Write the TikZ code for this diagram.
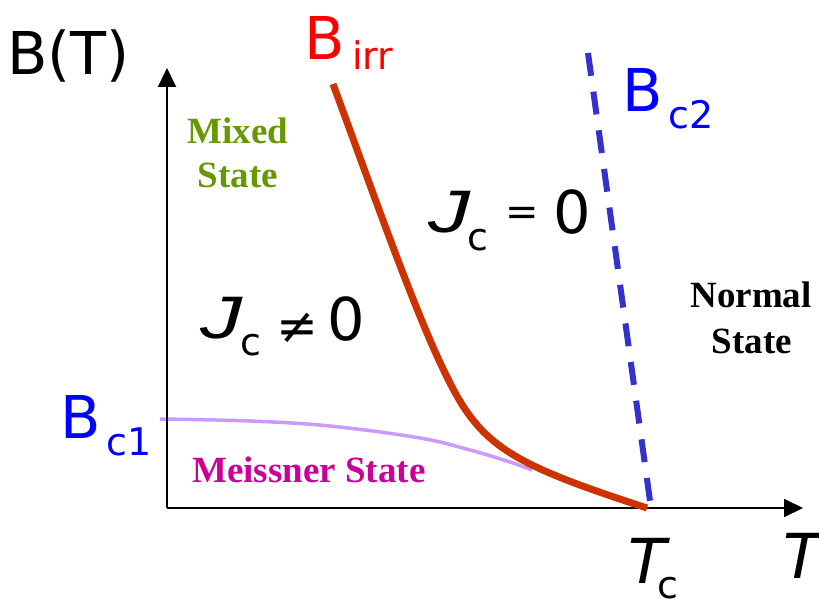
\documentclass[tikz,border=0pt]{standalone}
\usepackage{fontspec}
\setmainfont{DejaVu Sans}
\newfontfamily\tms{Liberation Serif}
\newfontfamily\arl{Liberation Sans}
\usetikzlibrary{arrows.meta}
\definecolor{birr}{HTML}{CC3300}
\definecolor{birrtext}{HTML}{FF0000}
\definecolor{bcblue}{HTML}{0000FF}
\definecolor{dashblue}{HTML}{3333CC}
\definecolor{lav}{HTML}{CC99FF}
\definecolor{mixgreen}{HTML}{669900}
\definecolor{meiss}{HTML}{CC0099}
\tikzset{
  lbl/.style={inner sep=0pt, anchor=base west},
  big/.style={lbl, font=\fontsize{59}{59}\selectfont},
  sub/.style={lbl, font=\fontsize{38}{38}\selectfont},
  jlet/.style={lbl, font=\arl\itshape\fontsize{60}{60}\selectfont},
  tlet/.style={lbl, font=\itshape\fontsize{62}{62}\selectfont},
  rel/.style={inner sep=0pt, anchor=center, font=\fontsize{40}{40}\selectfont},
  statelbl/.style={inner sep=0pt, anchor=base, font=\tms\bfseries\fontsize{37}{37}\selectfont},
  axis/.style={line width=2pt, -{Triangle[length=19pt,width=18pt]}},
}
\begin{document}
\begin{tikzpicture}[x=1pt,y=-1pt]
\useasboundingbox (0,0) rectangle (819,599);
% coordinates
\coordinate (O) at (167,508);
\coordinate (ytip) at (167,68);
\coordinate (xtip) at (803,508);
\coordinate (Tc) at (647,508);
\coordinate (birrtop) at (333,84);
\coordinate (birrmid) at (467,412);
\coordinate (bc2top) at (588,53);
\coordinate (bc2bot) at (651,508);
% Bc1 curve
\draw[lav, line width=3.5pt] plot[smooth, tension=0.6] coordinates {(160,419) (250,421) (330,426) (420,438) (470,450) (510,462) (532,470)};
% axes
\draw[axis] (O) -- (ytip);
\draw[axis] (O) -- (xtip);
% Birr curve
\draw[birr, line width=7pt] (birrtop) .. controls (385,225) and (432.5,363) .. (birrmid)
  .. controls (495.8,452.9) and (533,471) .. (Tc);
% Bc2 dashed line
\draw[dashblue, line width=6pt, dash pattern=on 23pt off 16pt] (bc2top) -- (bc2bot);
% axis labels
\node[big] (bt) at (7,75) {B(T)};
\node[tlet] (tc) at (628,583) {T};
\node[sub] (tcs) at (657,598) {c};
\node[tlet] (tt) at (783,578) {T};
% curve labels
\node[big, text=birrtext] (birrB) at (304,60) {B};
\node[sub, text=birrtext] (birrS) at (352,70) {irr};
\node[big, text=bcblue] (bc2B) at (622,112) {B};
\node[sub, text=bcblue] (bc2S) at (668,129) {c2};
\node[big, text=bcblue] (bc1B) at (60,438) {B};
\node[sub, text=bcblue] (bc1S) at (106,455) {c1};
% Jc = 0
\node[jlet] (j1) at (428,232) {\scalebox{1.4}[1]{J}};
\node[sub] (j1s) at (467,250) {c};
\node[rel] (eq) at (522,216) {=};
\node[big] (z1) at (553,233) {0};
% Jc != 0
\node[jlet] (j2) at (200,338) {\scalebox{1.4}[1]{J}};
\node[sub] (j2s) at (240,355) {c};
\node[rel, font=\fontsize{50}{50}\selectfont] (neq) at (297,328) {≠};
\node[big] (z2) at (327,340) {0};
% state labels
\node[statelbl, text=mixgreen] (mix1) at (238,143) {Mixed};
\node[statelbl, text=mixgreen] (mix2) at (238,187) {State};
\node[statelbl] (nor1) at (751,307) {Normal};
\node[statelbl] (nor2) at (752,353) {State};
\node[statelbl, text=meiss, anchor=base west] (meis) at (192,482) {Meissner State};
\end{tikzpicture}
\end{document}
